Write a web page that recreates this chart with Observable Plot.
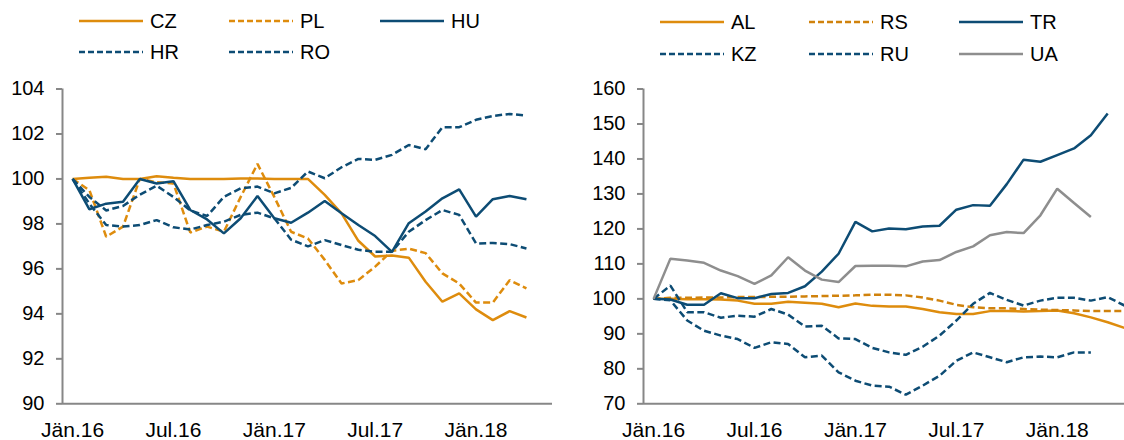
<!DOCTYPE html>
<html><head><meta charset="utf-8">
<script src="https://cdn.jsdelivr.net/npm/d3@7"></script>
<script src="https://cdn.jsdelivr.net/npm/@observablehq/plot@0.6"></script>
<style>
body{margin:0;background:#fff;font-family:"Liberation Sans",Arial,sans-serif;}
#wrap{position:relative;width:1124px;height:440px;overflow:hidden;background:#fff;}
.panel{position:absolute;top:0;width:562px;height:440px;}
.legend{position:relative;height:70px;}
.item{position:absolute;display:flex;align-items:center;font-size:20px;color:#000;height:24px;line-height:24px;white-space:nowrap;}
.item svg{margin-right:7px;display:block;}
.panel svg.plot{display:block;}
</style></head><body><div id="wrap"></div>
<script>
// ---- axis ticks ----
const tickMonths = [0, 6, 12, 18, 24];
const tickLabels = ["Jän.16", "Jul.16", "Jän.17", "Jul.17", "Jän.18"];
const leftTicksY = [90, 92, 94, 96, 98, 100, 102, 104];
const rightTicksY = [70, 80, 90, 100, 110, 120, 130, 140, 150, 160];

// ---- left panel series (monthly, Jän.16 .. Apr.18) ----
const CZ = [100, 100.05, 100.1, 100.0, 100.0, 100.12, 100.05, 100.0, 100.0, 100.0, 100.02, 100.02, 100.0, 100.0, 100.0, 99.29, 98.47, 97.25, 96.55, 96.6, 96.5, 95.43, 94.54, 94.91, 94.2, 93.72, 94.12, 93.84];
const PL = [100, 99.5, 97.43, 97.88, 100.0, 99.85, 99.8, 97.62, 97.88, 97.65, 99.2, 100.67, 99.2, 97.65, 97.35, 96.4, 95.35, 95.5, 96.1, 96.8, 96.9, 96.7, 95.8, 95.35, 94.5, 94.5, 95.5, 95.13];
const HU = [100, 98.65, 98.9, 98.99, 100.0, 99.8, 99.9, 98.62, 98.2, 97.58, 98.25, 99.24, 98.25, 98.05, 98.5, 99.02, 98.47, 97.95, 97.46, 96.76, 98.03, 98.55, 99.14, 99.54, 98.32, 99.1, 99.24, 99.1];
const HR = [100, 98.9, 97.95, 97.88, 97.95, 98.17, 97.85, 97.75, 97.95, 98.1, 98.4, 98.5, 98.25, 97.3, 97.0, 97.28, 97.06, 96.85, 96.76, 96.76, 97.65, 98.17, 98.62, 98.4, 97.13, 97.15, 97.1, 96.91];
const RO = [100, 99.2, 98.6, 98.8, 99.3, 99.7, 99.2, 98.6, 98.35, 99.2, 99.58, 99.66, 99.36, 99.6, 100.33, 100.03, 100.52, 100.89, 100.85, 101.07, 101.51, 101.32, 102.3, 102.3, 102.63, 102.8, 102.89, 102.82];

// ---- right panel series (monthly, Jän.16 .. Mai.18) ----
const AL = [100, 100, 99.9, 99.9, 99.8, 99.5, 98.6, 98.6, 99.2, 98.9, 98.6, 97.6, 98.7, 98.0, 97.8, 97.8, 97.1, 96.2, 95.7, 95.7, 96.5, 96.5, 96.4, 96.5, 96.7, 95.9, 94.7, 93.3, 91.7];
const RS = [100, 100.3, 100.3, 100.4, 100.4, 100.5, 100.5, 100.6, 100.6, 100.7, 100.8, 100.9, 101.0, 101.2, 101.2, 101.0, 100.4, 99.5, 98.3, 97.6, 97.3, 97.3, 97.1, 96.9, 96.8, 96.7, 96.5, 96.5, 96.5];
const TR = [100, 99.8, 98.3, 98.3, 101.6, 100.2, 100.2, 101.4, 101.7, 103.6, 107.8, 112.9, 122.0, 119.3, 120.1, 119.9, 120.7, 120.9, 125.5, 126.8, 126.6, 132.8, 139.8, 139.2, 141.1, 143.0, 146.8, 153.0, null];
const KZ = [100, 103.8, 96.2, 96.2, 94.6, 95.2, 94.9, 97.1, 95.5, 92.1, 92.3, 88.7, 88.5, 86.0, 84.7, 84.0, 86.3, 89.5, 93.8, 98.6, 101.7, 99.7, 98.1, 99.5, 100.3, 100.3, 99.5, 100.5, 98.1];
const RU = [100, 99.6, 93.8, 90.9, 89.5, 88.5, 86.0, 87.6, 87.1, 83.3, 83.8, 79.0, 76.6, 75.2, 74.9, 72.6, 75.2, 78.0, 82.3, 84.7, 83.3, 81.9, 83.3, 83.5, 83.3, 84.7, 84.7, null, null];
const UA = [100, 111.5, 111.0, 110.3, 108.1, 106.5, 104.3, 106.7, 111.9, 108.1, 105.5, 104.8, 109.4, 109.5, 109.5, 109.3, 110.7, 111.1, 113.4, 115.0, 118.2, 119.1, 118.8, 123.9, 131.5, 127.4, 123.4, null, null];

// ---- styles ----
const ORANGE = "#DE8C0D", BLUE = "#0D4C74", GRAY = "#8E8E8E", AXIS = "#878787";
const DASH = "7,3.5";
const leftSeries = [
  {name: "CZ", values: CZ, color: ORANGE, dash: null},
  {name: "PL", values: PL, color: ORANGE, dash: DASH},
  {name: "HU", values: HU, color: BLUE, dash: null},
  {name: "HR", values: HR, color: BLUE, dash: DASH},
  {name: "RO", values: RO, color: BLUE, dash: DASH}
];
const rightSeries = [
  {name: "AL", values: AL, color: ORANGE, dash: null},
  {name: "RS", values: RS, color: "#D0820C", dash: DASH},
  {name: "TR", values: TR, color: BLUE, dash: null},
  {name: "KZ", values: KZ, color: BLUE, dash: DASH},
  {name: "RU", values: RU, color: BLUE, dash: DASH},
  {name: "UA", values: UA, color: GRAY, dash: null}
];

function rows(s) {
  return s.values.map((v, i) => ({m: i, v})).filter(d => d.v != null);
}

function makePlot(series, yDomain, yTicks, xDomain, marginLeft, marginRight) {
  return Plot.plot({
    width: 562, height: 370,
    marginLeft, marginRight, marginTop: 18.5, marginBottom: 36.7,
    style: {fontSize: "20px", fontFamily: "'Liberation Sans', Arial, sans-serif", background: "transparent", color: "#000", overflow: "visible"},
    x: {type: "linear", domain: xDomain, label: null},
    y: {domain: yDomain, label: null},
    marks: [
      Plot.axisY({ticks: yTicks, tickSize: 6, tickPadding: 12, stroke: AXIS, strokeWidth: 2, fill: "#000", label: null, tickFormat: d => String(d)}),
      Plot.axisX({ticks: tickMonths, tickFormat: d => tickLabels[tickMonths.indexOf(d)], tickSize: 0, tickPadding: 18, fontSize: 21, fill: "#000", label: null}),
      Plot.ruleX([xDomain[0]], {stroke: AXIS, strokeWidth: 2}),
      Plot.ruleY([yDomain[0]], {stroke: AXIS, strokeWidth: 2}),
      ...series.map(s => Plot.line(rows(s), {x: "m", y: "v", stroke: s.color, strokeWidth: 2.5, strokeDasharray: s.dash || undefined, strokeLinejoin: "miter", strokeLinecap: "butt"}))
    ]
  });
}

function makeLegend(series, cols, rowsY) {
  const div = document.createElement("div");
  div.className = "legend";
  series.forEach((s, i) => {
    const item = document.createElement("div");
    item.className = "item";
    item.style.left = cols[i % 3] + "px";
    item.style.top = (rowsY[Math.floor(i / 3)] - 12) + "px";
    const dashAttr = s.dash ? `stroke-dasharray="6,3"` : "";
    item.innerHTML = `<svg width="64" height="6"><line x1="0" x2="64" y1="3" y2="3" stroke="${s.color}" stroke-width="2.5" ${dashAttr}/></svg><span>${s.name}</span>`;
    div.appendChild(item);
  });
  return div;
}

const wrap = document.getElementById("wrap");

const left = document.createElement("div");
left.className = "panel"; left.style.left = "0px";
left.appendChild(makeLegend(leftSeries, [79, 229, 380], [21, 52]));
const lp = makePlot(leftSeries, [90, 104], leftTicksY, [-0.6, 28.55], 62, 10);
lp.classList.add("plot");
left.appendChild(lp);
wrap.appendChild(left);

const right = document.createElement("div");
right.className = "panel"; right.style.left = "562px";
right.appendChild(makeLegend(rightSeries, [98, 247, 397], [22, 54]));
const rp = makePlot(rightSeries, [70, 160], rightTicksY, [-0.6, 28.0], 81, 0);
rp.classList.add("plot");
right.appendChild(rp);
wrap.appendChild(right);
</script>
</body></html>
